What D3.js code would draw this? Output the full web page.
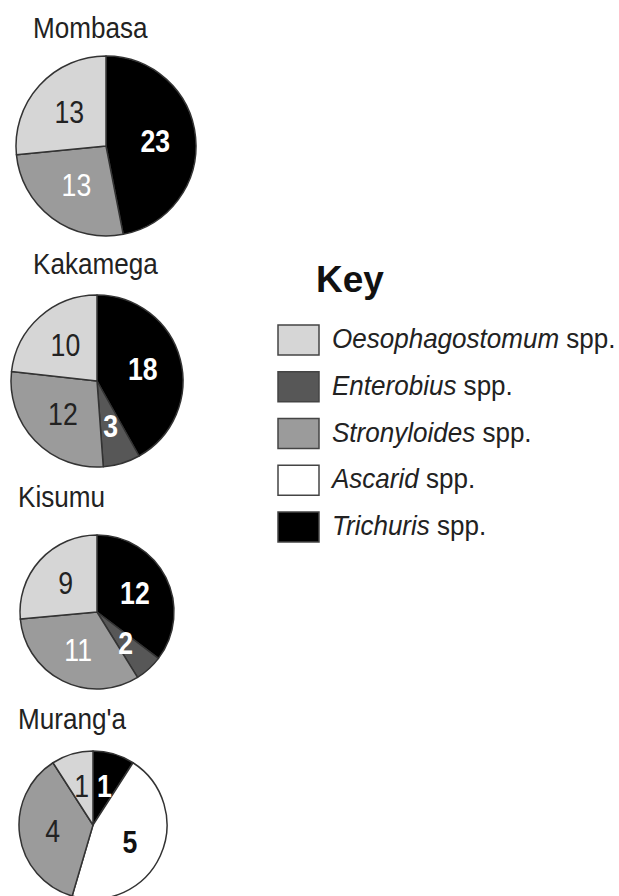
<!DOCTYPE html>
<html><head><meta charset="utf-8">
<script src="https://cdn.jsdelivr.net/npm/d3@7"></script>
<style>html,body{margin:0;padding:0;background:#fff;}</style>
</head><body>
<svg id="chart" width="619" height="896"></svg>
<script>
// ---- data ----
const sites = ["Mombasa", "Kakamega", "Kisumu", "Murang'a"];
const species = ["Trichuris", "Enterobius", "Ascarid", "Stronyloides", "Oesophagostomum"]; // clockwise order in pies
const trichuris       = [23, 18, 12, 1];
const enterobius      = [0, 3, 2, 0];
const ascarid         = [0, 0, 0, 5];
const strongyloides   = [13, 12, 11, 4];
const oesophagostomum = [13, 10, 9, 1];
const legendOrder = ["Oesophagostomum", "Enterobius", "Stronyloides", "Ascarid", "Trichuris"];

// ---- styles / layout ----
const colors = {Oesophagostomum: "#d6d6d6", Enterobius: "#575757", Stronyloides: "#9b9b9b", Ascarid: "#ffffff", Trichuris: "#000000"};
const labelColor = {Oesophagostomum: "#222", Enterobius: "#fff", Ascarid: "#111", Trichuris: "#fff"};
const strongLabelColor = ["#fff", "#222", "#fff", "#222"];
const labelBold = {Trichuris: true, Enterobius: true, Ascarid: true};
const pieCx = [106, 97, 97, 93];
const pieCy = [146, 381, 612, 825];
const pieR  = [90, 86, 77, 74];
const titleX = [33, 33, 18, 18];
const titleY = [38, 274, 507, 729];

const svg = d3.select("#chart");
const seriesBy = {Trichuris: trichuris, Enterobius: enterobius, Ascarid: ascarid, Stronyloides: strongyloides, Oesophagostomum: oesophagostomum};

function ctext(parent, x, y, str, opts) {
  const g = parent.append("g").attr("transform", `translate(${x},${y}) scale(${opts.sx},1)`);
  const t = g.append("text")
    .attr("font-family", "Liberation Sans, Arial, sans-serif")
    .attr("font-size", opts.size)
    .attr("font-weight", opts.bold ? "bold" : "normal")
    .attr("fill", opts.fill || "#222")
    .attr("text-anchor", opts.anchor || "start")
    .attr("dominant-baseline", opts.baseline || "auto");
  return t.text(str);
}

const pie = d3.pie().sort(null).value(d => d.value);

sites.forEach((site, i) => {
  ctext(svg, titleX[i], titleY[i], site, {size: 29, sx: 0.9, fill: "#222"});
  const data = species.map(s => ({species: s, value: seriesBy[s][i]})).filter(d => d.value > 0);
  const arcs = pie(data);
  const g = svg.append("g").attr("transform", `translate(${pieCx[i]},${pieCy[i]})`);
  const arc = d3.arc().innerRadius(0).outerRadius(pieR[i]);
  const labelArc = d3.arc().innerRadius(pieR[i] * 0.55).outerRadius(pieR[i] * 0.55);
  g.selectAll("path").data(arcs).join("path")
    .attr("d", arc)
    .attr("fill", d => colors[d.data.species])
    .attr("stroke", "#333")
    .attr("stroke-width", 1.5)
    .attr("stroke-linejoin", "round");
  arcs.forEach(a => {
    const [lx, ly] = labelArc.centroid(a);
    const sp = a.data.species;
    ctext(g, lx, ly, a.data.value, {
      size: 31, sx: 0.86, anchor: "middle", baseline: "central",
      bold: !!labelBold[sp],
      fill: sp === "Stronyloides" ? strongLabelColor[i] : labelColor[sp]
    });
  });
});

// ---- legend ----
const key = svg.append("g");
key.append("text").attr("x", 316).attr("y", 292)
  .attr("font-family", "Liberation Sans, Arial, sans-serif")
  .attr("font-size", 37).attr("font-weight", "bold").attr("fill", "#111").text("Key");

const ly = d3.scalePoint().domain(legendOrder).range([325, 512]);
legendOrder.forEach(s => {
  const y = ly(s);
  key.append("rect").attr("x", 278).attr("y", y).attr("width", 41).attr("height", 30)
    .attr("fill", colors[s]).attr("stroke", "#444").attr("stroke-width", 1.5);
  const t = ctext(key, 332, y + 23, "", {size: 28, sx: 0.93, fill: "#222"});
  t.append("tspan").attr("font-style", "italic").text(s);
  t.append("tspan").text(" spp.");
});
</script>
</body></html>
